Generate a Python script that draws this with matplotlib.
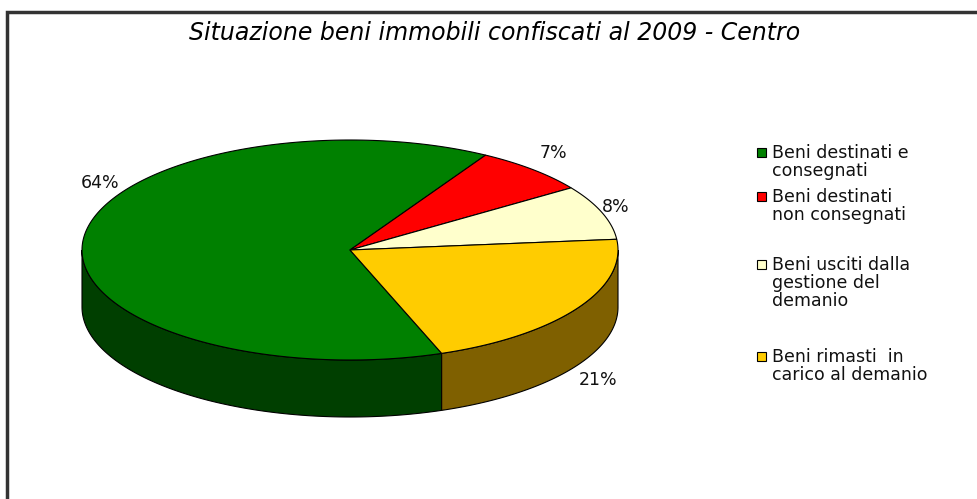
import numpy as np
import matplotlib.pyplot as plt
from matplotlib.patches import Polygon, Rectangle

# data
title = "Situazione beni immobili confiscati al 2009 - Centro"
categories = ["Beni destinati e\nconsegnati",
              "Beni destinati\nnon consegnati",
              "Beni usciti dalla\ngestione del\ndemanio",
              "Beni rimasti  in\ncarico al demanio"]
shares = [64, 7, 8, 21]
top_colors = ["#008000", "#ff0000", "#ffffcc", "#ffcc00"]
side_colors = ["#003f00", "#800000", "#808066", "#7f6000"]

# layout (pixels, y down)
cx, cy, rx, ry, depth = 350, 250, 268, 110, 57
start_deg = 290          # slices run clockwise from here
pct_pos = [(100, 183), (553, 153), (616, 207), (598, 380)]
leg_x = 762
leg_y = [153, 197, 265, 357]


def ell(t):
    t = np.radians(t)
    return cx + rx * np.cos(t), cy - ry * np.sin(t)


fig = plt.figure(figsize=(9.78, 4.99), dpi=100)
ax = fig.add_axes([0, 0, 1, 1])
ax.set_xlim(0, 978)
ax.set_ylim(499, 0)
ax.axis("off")

frac = np.array(shares) / sum(shares)
cum = np.concatenate([[0], np.cumsum(frac)])
th1 = start_deg - 360 * cum[:-1]
th2 = start_deg - 360 * cum[1:]

# side walls (front half only)
for i in range(len(shares)):
    lo, hi = th2[i], th1[i]
    for a0, a1 in [(-180, 0), (180, 360), (540, 720)]:
        a, b = max(lo, a0), min(hi, a1)
        if b <= a:
            continue
        t = np.linspace(a, b, 100)
        x, y = ell(t)
        pts = np.column_stack([np.r_[x, x[::-1]], np.r_[y, y[::-1] + depth]])
        ax.add_patch(Polygon(pts, closed=True, fc=side_colors[i], ec="black", lw=0.8))

# top faces
for i in range(len(shares)):
    t = np.linspace(th1[i], th2[i], 200)
    x, y = ell(t)
    pts = np.column_stack([np.r_[cx, x], np.r_[cy, y]])
    ax.add_patch(Polygon(pts, closed=True, fc=top_colors[i], ec="black", lw=0.8))

# percent labels
for (px, py), s in zip(pct_pos, shares):
    ax.text(px, py, f"{s}%", ha="center", va="center", fontsize=12.5, color="#111111")

# legend
for i, lab in enumerate(categories):
    ax.add_patch(Rectangle((leg_x - 5, leg_y[i] - 5), 9, 9, fc=top_colors[i], ec="black", lw=0.8))
    ax.text(leg_x + 10, leg_y[i] - 9, lab, ha="left", va="top", fontsize=12.5,
            linespacing=1.0, color="#111111")

ax.text(495, 33, title, ha="center", va="center", fontsize=17, fontstyle="italic")

# frame
ax.plot([7, 7, 978], [499, 12, 12], color="#333333", lw=2.5, solid_joinstyle="miter")

fig.savefig("out.png", dpi=100)
